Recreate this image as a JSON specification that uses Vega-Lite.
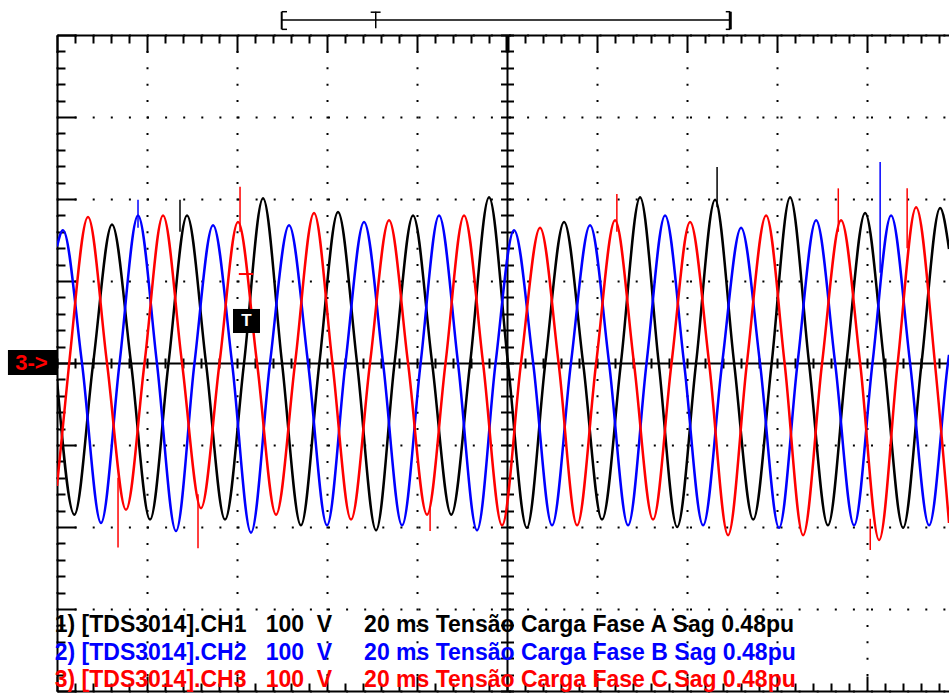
{
  "$schema": "https://vega.github.io/schema/vega-lite/v6.json",
  "width": 892,
  "height": 656,
  "autosize": {"type": "none"},
  "padding": {"left": 57, "top": 35, "right": 0, "bottom": 2},
  "background": "white",
  "config": {"view": {"stroke": null}},
  "data": {"values": [{}]},
  "datasets": {
    "wave": [
      {"t":0,"v":-20,"ch":"CH1"},{"t":3.86,"v":-185,"ch":"CH1"},{"t":8.04,"v":0,"ch":"CH1"},{"t":12.22,"v":169,"ch":"CH1"},
      {"t":16.45,"v":0,"ch":"CH1"},{"t":20.67,"v":-191,"ch":"CH1"},{"t":24.78,"v":0,"ch":"CH1"},{"t":28.89,"v":180,"ch":"CH1"},
      {"t":33.11,"v":0,"ch":"CH1"},{"t":37.33,"v":-191,"ch":"CH1"},{"t":41.56,"v":0,"ch":"CH1"},{"t":45.78,"v":201,"ch":"CH1"},
      {"t":50.0,"v":0,"ch":"CH1"},{"t":54.2,"v":-198,"ch":"CH1"},{"t":58.3,"v":0,"ch":"CH1"},{"t":62.44,"v":184,"ch":"CH1"},
      {"t":66.67,"v":0,"ch":"CH1"},{"t":70.9,"v":-204,"ch":"CH1"},{"t":75.0,"v":0,"ch":"CH1"},{"t":79.11,"v":180,"ch":"CH1"},
      {"t":83.35,"v":0,"ch":"CH1"},{"t":87.6,"v":-185,"ch":"CH1"},{"t":91.8,"v":0,"ch":"CH1"},{"t":96.0,"v":202,"ch":"CH1"},
      {"t":100.2,"v":0,"ch":"CH1"},{"t":104.4,"v":-201,"ch":"CH1"},{"t":108.5,"v":0,"ch":"CH1"},{"t":112.67,"v":172,"ch":"CH1"},
      {"t":116.9,"v":0,"ch":"CH1"},{"t":121.1,"v":-191,"ch":"CH1"},{"t":125.3,"v":0,"ch":"CH1"},{"t":129.56,"v":202,"ch":"CH1"},
      {"t":133.7,"v":0,"ch":"CH1"},{"t":137.8,"v":-200,"ch":"CH1"},{"t":142.0,"v":0,"ch":"CH1"},{"t":146.22,"v":199,"ch":"CH1"},
      {"t":150.45,"v":0,"ch":"CH1"},{"t":154.7,"v":-191,"ch":"CH1"},{"t":158.8,"v":0,"ch":"CH1"},{"t":162.89,"v":202,"ch":"CH1"},
      {"t":167.1,"v":0,"ch":"CH1"},{"t":171.3,"v":-198,"ch":"CH1"},{"t":175.4,"v":0,"ch":"CH1"},{"t":179.56,"v":183,"ch":"CH1"},
      {"t":183.8,"v":0,"ch":"CH1"},{"t":188.0,"v":-201,"ch":"CH1"},{"t":192.1,"v":0,"ch":"CH1"},{"t":196.22,"v":189,"ch":"CH1"},
      {"t":198.2,"v":139,"ch":"CH1"},

      {"t":0,"v":142,"ch":"CH2"},{"t":1.33,"v":162,"ch":"CH2"},{"t":5.55,"v":0,"ch":"CH2"},{"t":9.78,"v":-195,"ch":"CH2"},
      {"t":13.9,"v":0,"ch":"CH2"},{"t":18.0,"v":180,"ch":"CH2"},{"t":22.2,"v":0,"ch":"CH2"},{"t":26.44,"v":-205,"ch":"CH2"},
      {"t":30.55,"v":0,"ch":"CH2"},{"t":34.67,"v":168,"ch":"CH2"},{"t":38.9,"v":0,"ch":"CH2"},{"t":43.11,"v":-207,"ch":"CH2"},
      {"t":47.33,"v":0,"ch":"CH2"},{"t":51.56,"v":168,"ch":"CH2"},{"t":55.78,"v":0,"ch":"CH2"},{"t":60.0,"v":-198,"ch":"CH2"},
      {"t":64.1,"v":0,"ch":"CH2"},{"t":68.22,"v":172,"ch":"CH2"},{"t":72.45,"v":0,"ch":"CH2"},{"t":76.67,"v":-198,"ch":"CH2"},
      {"t":80.8,"v":0,"ch":"CH2"},{"t":84.89,"v":180,"ch":"CH2"},{"t":89.1,"v":0,"ch":"CH2"},{"t":93.33,"v":-204,"ch":"CH2"},
      {"t":97.45,"v":0,"ch":"CH2"},{"t":101.56,"v":162,"ch":"CH2"},{"t":105.8,"v":0,"ch":"CH2"},{"t":110.0,"v":-198,"ch":"CH2"},
      {"t":114.2,"v":0,"ch":"CH2"},{"t":118.44,"v":168,"ch":"CH2"},{"t":122.67,"v":0,"ch":"CH2"},{"t":126.89,"v":-198,"ch":"CH2"},
      {"t":131.0,"v":0,"ch":"CH2"},{"t":135.11,"v":180,"ch":"CH2"},{"t":139.33,"v":0,"ch":"CH2"},{"t":143.56,"v":-198,"ch":"CH2"},
      {"t":147.8,"v":0,"ch":"CH2"},{"t":152.0,"v":165,"ch":"CH2"},{"t":156.2,"v":0,"ch":"CH2"},{"t":160.44,"v":-201,"ch":"CH2"},
      {"t":164.55,"v":0,"ch":"CH2"},{"t":168.67,"v":174,"ch":"CH2"},{"t":172.9,"v":0,"ch":"CH2"},{"t":177.11,"v":-198,"ch":"CH2"},
      {"t":181.2,"v":0,"ch":"CH2"},{"t":185.33,"v":180,"ch":"CH2"},{"t":189.55,"v":0,"ch":"CH2"},{"t":193.78,"v":-198,"ch":"CH2"},
      {"t":197.96,"v":0,"ch":"CH2"},{"t":198.2,"v":10,"ch":"CH2"},

      {"t":0,"v":-150,"ch":"CH3"},{"t":2.71,"v":0,"ch":"CH3"},{"t":6.89,"v":178,"ch":"CH3"},{"t":11.11,"v":0,"ch":"CH3"},
      {"t":15.33,"v":-179,"ch":"CH3"},{"t":19.45,"v":0,"ch":"CH3"},{"t":23.56,"v":180,"ch":"CH3"},{"t":27.78,"v":0,"ch":"CH3"},
      {"t":32.0,"v":-177,"ch":"CH3"},{"t":36.11,"v":0,"ch":"CH3"},{"t":40.22,"v":172,"ch":"CH3"},{"t":44.45,"v":0,"ch":"CH3"},
      {"t":48.67,"v":-185,"ch":"CH3"},{"t":52.9,"v":0,"ch":"CH3"},{"t":57.11,"v":183,"ch":"CH3"},{"t":61.2,"v":0,"ch":"CH3"},
      {"t":65.33,"v":-191,"ch":"CH3"},{"t":69.55,"v":0,"ch":"CH3"},{"t":73.78,"v":174,"ch":"CH3"},{"t":78.0,"v":0,"ch":"CH3"},
      {"t":82.22,"v":-185,"ch":"CH3"},{"t":86.33,"v":0,"ch":"CH3"},{"t":90.44,"v":180,"ch":"CH3"},{"t":94.67,"v":0,"ch":"CH3"},
      {"t":98.89,"v":-198,"ch":"CH3"},{"t":103.1,"v":0,"ch":"CH3"},{"t":107.33,"v":165,"ch":"CH3"},{"t":111.45,"v":0,"ch":"CH3"},
      {"t":115.56,"v":-198,"ch":"CH3"},{"t":119.8,"v":0,"ch":"CH3"},{"t":124.0,"v":174,"ch":"CH3"},{"t":128.2,"v":0,"ch":"CH3"},
      {"t":132.44,"v":-191,"ch":"CH3"},{"t":136.55,"v":0,"ch":"CH3"},{"t":140.67,"v":172,"ch":"CH3"},{"t":144.9,"v":0,"ch":"CH3"},
      {"t":149.11,"v":-210,"ch":"CH3"},{"t":153.3,"v":0,"ch":"CH3"},{"t":157.56,"v":180,"ch":"CH3"},{"t":161.67,"v":0,"ch":"CH3"},
      {"t":165.78,"v":-210,"ch":"CH3"},{"t":170.0,"v":0,"ch":"CH3"},{"t":174.22,"v":174,"ch":"CH3"},{"t":178.45,"v":0,"ch":"CH3"},
      {"t":182.67,"v":-216,"ch":"CH3"},{"t":186.8,"v":0,"ch":"CH3"},{"t":190.89,"v":190,"ch":"CH3"},{"t":195.07,"v":0,"ch":"CH3"},
      {"t":198.2,"v":-195,"ch":"CH3"}
    ],
    "spikes": [
      {"t":27.33,"lo":160,"hi":199,"ch":"CH1"},
      {"t":146.67,"lo":190,"hi":239,"ch":"CH1"},
      {"t":18.0,"lo":165,"hi":199,"ch":"CH2"},
      {"t":182.9,"lo":110,"hi":245,"ch":"CH2"},
      {"t":40.67,"lo":160,"hi":215,"ch":"CH3"},
      {"t":124.4,"lo":160,"hi":206,"ch":"CH3"},
      {"t":173.6,"lo":160,"hi":213,"ch":"CH3"},
      {"t":188.9,"lo":140,"hi":213,"ch":"CH3"},
      {"t":13.56,"lo":-225,"hi":-140,"ch":"CH3"},
      {"t":31.33,"lo":-226,"hi":-160,"ch":"CH3"},
      {"t":82.9,"lo":-205,"hi":-175,"ch":"CH3"},
      {"t":180.7,"lo":-228,"hi":-190,"ch":"CH3"}
    ]
  },
  "layer": [
    {
      "data": {"name": "wave"},
      "mark": {"type": "line", "interpolate": "monotone", "strokeWidth": 2.5, "clip": true},
      "encoding": {
        "x": {"field": "t", "type": "quantitative",
          "scale": {"domain": [0, 198.2], "nice": false, "zero": false},
          "axis": {"orient": "top", "title": null, "labels": false,
            "values": [0,4,8,12,16,20,24,28,32,36,40,44,48,52,56,60,64,68,72,76,80,84,88,92,96,100,104,108,112,116,120,124,128,132,136,140,144,148,152,156,160,164,168,172,176,180,184,188,192,196],
            "domain": true, "domainColor": "#000000", "domainWidth": 2,
            "tickColor": "#000000",
            "tickWidth": {"condition": {"test": "datum.value === 100", "value": 4}, "value": 2},
            "tickSize": {"condition": {"test": "datum.value % 20 === 0", "value": -17}, "value": -8},
            "grid": true, "gridColor": "#000000",
            "gridOpacity": {"condition": {"test": "datum.value % 20 === 0", "value": 1}, "value": 0},
            "gridWidth": 2,
            "gridDash": {"condition": {"test": "datum.value === 100", "value": []}, "value": [2, 14.4]},
            "gridDashOffset": 1}},
        "y": {"field": "v", "type": "quantitative",
          "scale": {"domain": [-400, 400], "nice": false, "zero": false},
          "axis": {"orient": "left", "title": null, "labels": false,
            "values": [-400,-380,-360,-340,-320,-300,-280,-260,-240,-220,-200,-180,-160,-140,-120,-100,-80,-60,-40,-20,0,20,40,60,80,100,120,140,160,180,200,220,240,260,280,300,320,340,360,380,400],
            "domain": true, "domainColor": "#000000", "domainWidth": 2,
            "tickColor": "#000000", "tickWidth": 2,
            "tickSize": {"condition": {"test": "datum.value % 100 === 0", "value": -19}, "value": -8},
            "grid": true, "gridColor": "#000000",
            "gridOpacity": {"condition": {"test": "datum.value % 100 === 0", "value": 1}, "value": 0},
            "gridWidth": 2,
            "gridDash": {"condition": {"test": "datum.value === 0", "value": []}, "value": [2, 16.1]},
            "gridDashOffset": 1}},
        "color": {"field": "ch", "type": "nominal",
          "scale": {"domain": ["CH1", "CH2", "CH3"], "range": ["#000000", "#0000ff", "#ff0000"]},
          "legend": null}
      }
    },
    {
      "data": {"name": "spikes"},
      "mark": {"type": "rule", "strokeWidth": 1.5, "clip": true},
      "encoding": {
        "x": {"field": "t", "type": "quantitative",
          "scale": {"domain": [0, 198.2], "nice": false, "zero": false},
          "axis": {"orient": "bottom", "title": null, "labels": false,
            "values": [0,4,8,12,16,20,24,28,32,36,40,44,48,52,56,60,64,68,72,76,80,84,88,92,96,100,104,108,112,116,120,124,128,132,136,140,144,148,152,156,160,164,168,172,176,180,184,188,192,196],
            "domain": true, "domainColor": "#000000", "domainWidth": 2,
            "tickColor": "#000000", "tickWidth": 2,
            "tickSize": {"condition": {"test": "datum.value % 20 === 0", "value": -15}, "value": -8},
            "grid": false}},
        "y": {"field": "lo", "type": "quantitative",
          "scale": {"domain": [-400, 400], "nice": false, "zero": false},
          "axis": {"orient": "left", "offset": -443.5, "title": null, "labels": false,
            "values": [-400,-380,-360,-340,-320,-300,-280,-260,-240,-220,-200,-180,-160,-140,-120,-100,-80,-60,-40,-20,0,20,40,60,80,100,120,140,160,180,200,220,240,260,280,300,320,340,360,380,400],
            "domain": false, "tickColor": "#000000", "tickWidth": 2, "tickSize": -13, "grid": false}},
        "y2": {"field": "hi"},
        "color": {"field": "ch", "type": "nominal",
          "scale": {"domain": ["CH1", "CH2", "CH3"], "range": ["#000000", "#0000ff", "#ff0000"]},
          "legend": null}
      }
    },
    {
      "data": {"name": "spikes"},
      "mark": {"type": "point", "opacity": 0},
      "encoding": {
        "x": {"field": "t", "type": "quantitative",
          "scale": {"domain": [0, 198.2], "nice": false, "zero": false},
          "axis": {"orient": "bottom", "offset": -323, "title": null, "labels": false,
            "values": [0,4,8,12,16,20,24,28,32,36,40,44,48,52,56,60,64,68,72,76,80,84,88,92,96,100,104,108,112,116,120,124,128,132,136,140,144,148,152,156,160,164,168,172,176,180,184,188,192,196],
            "domain": false, "tickColor": "#000000", "tickWidth": 2, "tickSize": -10, "grid": false}},
        "y": {"field": "lo", "type": "quantitative", "axis": null}
      }
    },
    {
      "mark": {"type": "rect", "color": "#000000"},
      "encoding": {
        "x": {"datum": -10.9, "type": "quantitative", "axis": null},
        "x2": {"datum": 0},
        "y": {"datum": 15.9, "type": "quantitative", "axis": null},
        "y2": {"datum": -14.6}
      }
    },
    {
      "mark": {"type": "text", "text": "3->", "color": "#ff0000", "font": "Liberation Sans", "fontWeight": "bold", "fontSize": 22, "align": "left", "baseline": "middle"},
      "encoding": {
        "x": {"datum": -9.3, "type": "quantitative", "axis": null},
        "y": {"datum": 0, "type": "quantitative", "axis": null}
      }
    },
    {
      "mark": {"type": "rect", "color": "#000000"},
      "encoding": {
        "x": {"datum": 39.1, "type": "quantitative", "axis": null},
        "x2": {"datum": 45.1},
        "y": {"datum": 36.6, "type": "quantitative", "axis": null},
        "y2": {"datum": 65.9}
      }
    },
    {
      "mark": {"type": "text", "text": "T", "color": "#ffffff", "font": "Liberation Sans", "fontWeight": "bold", "fontSize": 17, "align": "center", "baseline": "middle"},
      "encoding": {
        "x": {"datum": 42.1, "type": "quantitative", "axis": null},
        "y": {"datum": 51, "type": "quantitative", "axis": null}
      }
    },
    {
      "mark": {"type": "rule", "color": "#ff0000", "strokeWidth": 2},
      "encoding": {
        "x": {"datum": 40.4, "type": "quantitative", "axis": null},
        "x2": {"datum": 43.6},
        "y": {"datum": 108.5, "type": "quantitative", "axis": null}
      }
    },
    {
      "mark": {"type": "rule", "color": "#000000", "strokeWidth": 1.5},
      "encoding": {
        "x": {"datum": 49.93, "type": "quantitative", "axis": null},
        "x2": {"datum": 149.7},
        "y": {"datum": 418.3, "type": "quantitative", "axis": null}
      }
    },
    {
      "mark": {"type": "rule", "color": "#000000", "strokeWidth": 2},
      "encoding": {
        "x": {"datum": 49.93, "type": "quantitative", "axis": null},
        "y": {"datum": 428.4, "type": "quantitative", "axis": null},
        "y2": {"datum": 406.9}
      }
    },
    {
      "mark": {"type": "rule", "color": "#000000", "strokeWidth": 1.5},
      "encoding": {
        "x": {"datum": 49.93, "type": "quantitative", "axis": null},
        "x2": {"datum": 51.1},
        "y": {"datum": 428.4, "type": "quantitative", "axis": null}
      }
    },
    {
      "mark": {"type": "rule", "color": "#000000", "strokeWidth": 1.5},
      "encoding": {
        "x": {"datum": 49.93, "type": "quantitative", "axis": null},
        "x2": {"datum": 51.1},
        "y": {"datum": 406.9, "type": "quantitative", "axis": null}
      }
    },
    {
      "mark": {"type": "rule", "color": "#000000", "strokeWidth": 1.5},
      "encoding": {
        "x": {"datum": 70.82, "type": "quantitative", "axis": null},
        "y": {"datum": 428.4, "type": "quantitative", "axis": null},
        "y2": {"datum": 408.2}
      }
    },
    {
      "mark": {"type": "rule", "color": "#000000", "strokeWidth": 1.5},
      "encoding": {
        "x": {"datum": 69.7, "type": "quantitative", "axis": null},
        "x2": {"datum": 71.9},
        "y": {"datum": 427.8, "type": "quantitative", "axis": null}
      }
    },
    {
      "mark": {"type": "rule", "color": "#000000", "strokeWidth": 3},
      "encoding": {
        "x": {"datum": 149.6, "type": "quantitative", "axis": null},
        "y": {"datum": 428.4, "type": "quantitative", "axis": null},
        "y2": {"datum": 406.9}
      }
    },
    {
      "mark": {"type": "rule", "color": "#000000", "strokeWidth": 1.5},
      "encoding": {
        "x": {"datum": 148.6, "type": "quantitative", "axis": null},
        "x2": {"datum": 149.6},
        "y": {"datum": 428.4, "type": "quantitative", "axis": null}
      }
    },
    {
      "mark": {"type": "rule", "color": "#000000", "strokeWidth": 1.5},
      "encoding": {
        "x": {"datum": 148.6, "type": "quantitative", "axis": null},
        "x2": {"datum": 149.6},
        "y": {"datum": 406.9, "type": "quantitative", "axis": null}
      }
    },
    {
      "mark": {"type": "text", "text": "1) [TDS3014].CH1\u00a0\u00a0\u00a0100\u00a0\u00a0V\u00a0\u00a0\u00a0\u00a0\u00a020 ms Tensão Carga Fase A Sag 0.48pu", "color": "#000000", "font": "Liberation Sans", "fontWeight": "bold", "fontSize": 23, "align": "left", "baseline": "alphabetic"},
      "encoding": {
        "x": {"datum": -0.5, "type": "quantitative", "axis": null},
        "y": {"datum": -328, "type": "quantitative", "axis": null}
      }
    },
    {
      "mark": {"type": "text", "text": "2) [TDS3014].CH2\u00a0\u00a0\u00a0100\u00a0\u00a0V\u00a0\u00a0\u00a0\u00a0\u00a020 ms Tensão Carga Fase B Sag 0.48pu", "color": "#0000ff", "font": "Liberation Sans", "fontWeight": "bold", "fontSize": 23, "align": "left", "baseline": "alphabetic"},
      "encoding": {
        "x": {"datum": -0.5, "type": "quantitative", "axis": null},
        "y": {"datum": -362, "type": "quantitative", "axis": null}
      }
    },
    {
      "mark": {"type": "text", "text": "3) [TDS3014].CH3\u00a0\u00a0\u00a0100\u00a0\u00a0V\u00a0\u00a0\u00a0\u00a0\u00a020 ms Tensão Carga Fase C Sag 0.48pu", "color": "#ff0000", "font": "Liberation Sans", "fontWeight": "bold", "fontSize": 23, "align": "left", "baseline": "alphabetic"},
      "encoding": {
        "x": {"datum": -0.5, "type": "quantitative", "axis": null},
        "y": {"datum": -395, "type": "quantitative", "axis": null}
      }
    }
  ],
  "resolve": {"axis": {"x": "independent", "y": "independent"}}
}
